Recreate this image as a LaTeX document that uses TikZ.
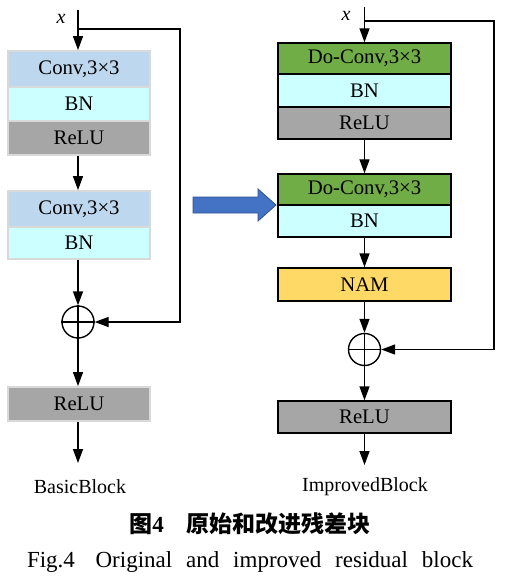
\documentclass[tikz,border=0pt]{standalone}
\usepackage{fontspec}
\setmainfont{Liberation Serif}
\newfontfamily\cjk{Noto Sans CJK SC}
\usetikzlibrary{arrows.meta}
\definecolor{convc}{HTML}{BDD7EE}
\definecolor{bnc}{HTML}{CCFFFF}
\definecolor{reluc}{HTML}{A6A6A6}
\definecolor{doc}{HTML}{70AD47}
\definecolor{namc}{HTML}{FFD966}
\definecolor{arrc}{HTML}{4472C4}
\definecolor{arrd}{HTML}{2F528F}
\tikzset{
  ar/.style={-{Triangle[length=14pt,width=10pt]},line width=1.4pt},
  ln/.style={line width=1.4pt},
  lb/.style={rectangle,minimum width=142pt,inner sep=0pt,draw=gray!30,line width=1.8pt,font=\fontsize{20.7}{24}\selectfont},
  rb/.style={rectangle,minimum width=173pt,inner sep=0pt,draw=black,line width=1.4pt,font=\fontsize{20.7}{24}\selectfont},
  sm/.style={circle,draw,line width=1.4pt,minimum size=32pt,inner sep=0pt},
  tx/.style={inner sep=0pt,font=\fontsize{20}{24}\selectfont}
}
\begin{document}
\begin{tikzpicture}[x=1pt,y=-1pt]
\useasboundingbox (0,0) rectangle (507,580);
% left block
\node[lb,fill=convc,minimum height=36pt] (lc1) at (79,69) {Conv,3×3};
\node[lb,fill=bnc,minimum height=34pt] (lb1) at (79,104) {BN};
\node[lb,fill=reluc,minimum height=34pt] (lr1) at (79,138) {ReLU};
\node[lb,fill=convc,minimum height=36pt] (lc2) at (79,209) {Conv,3×3};
\node[lb,fill=bnc,minimum height=32pt] (lb2) at (79,243) {BN};
\node[sm] (ls) at (78,322) {};
\node[lb,fill=reluc,minimum height=34pt] (lr2) at (79,404) {ReLU};
\node[tx,font=\itshape\fontsize{20}{24}\selectfont] (lx) at (61,19) {x};
\node[tx] (lname) at (80,487) {BasicBlock};
\coordinate (lin) at (78,10);
\coordinate (lsp) at (78,29);
\coordinate (lout) at (78,463);
\draw[ar] (lin) -- (lc1.north -| lin);
\draw[ar] (lsp) -- ++(102,0) |- (ls);
\draw[ar] (lr1.south -| lin) -- (lc2.north -| lin);
\draw[ar] (lb2.south -| lin) -- (ls);
\draw[ln] (ls.north) -- (ls.south) (ls.west) -- (ls.east);
\draw[ar] (ls) -- (lr2.north -| lin);
\draw[ar] (lr2.south -| lin) -- (lout);
% right block
\node[rb,fill=doc,minimum height=31pt] (rc1) at (364.5,58.5) {Do-Conv,3×3};
\node[rb,fill=bnc,minimum height=33pt] (rb1) at (364.5,90.5) {BN};
\node[rb,fill=reluc,minimum height=32pt] (rr1) at (364.5,123) {ReLU};
\node[rb,fill=doc,minimum height=31pt] (rc2) at (364.5,189.5) {Do-Conv,3×3};
\node[rb,fill=bnc,minimum height=32pt] (rb2) at (364.5,221) {BN};
\node[rb,fill=namc,minimum height=33pt] (rn) at (364.5,284.5) {NAM};
\node[sm] (rs) at (364.5,349.5) {};
\node[rb,fill=reluc,minimum height=32pt] (rr2) at (364.5,417) {ReLU};
\node[tx,font=\itshape\fontsize{20}{24}\selectfont] (rx) at (346,16) {x};
\node[tx] (rname) at (365,487) {ImprovedBlock};
\coordinate (rin) at (364.5,7);
\coordinate (rsp) at (364.5,21);
\coordinate (rout) at (364.5,465);
\draw[ar] (rin) -- (rc1);
\draw[ar] (rsp) -- ++(129.5,0) |- (rs);
\draw[ar] (rr1) -- (rc2);
\draw[ar] (rb2) -- (rn);
\draw[ar] (rn) -- (rs);
\draw[ln] (rs.north) -- (rs.south) (rs.west) -- (rs.east);
\draw[ar] (rs) -- (rr2);
\draw[ar] (rr2) -- (rout);
% transition arrow
\draw[arrd,fill=arrc,line width=0.8pt] (193,197) -- (258,197) -- (258,189) -- (276,205)
  -- (258,221) -- (258,213) -- (193,213) -- cycle;
% captions
\node[tx,font=\cjk\bfseries\fontsize{23}{27}\selectfont] (cap) at (250,524)
  {图{\rmfamily\bfseries 4}\hspace{1em}原始和改进残差块};
\node[tx,font=\fontsize{23}{27}\selectfont] (capen) at (250,562)
  {\makebox[446pt][s]{Fig.4\hspace{0.9em}Original and improved residual block}};
\end{tikzpicture}
\end{document}
